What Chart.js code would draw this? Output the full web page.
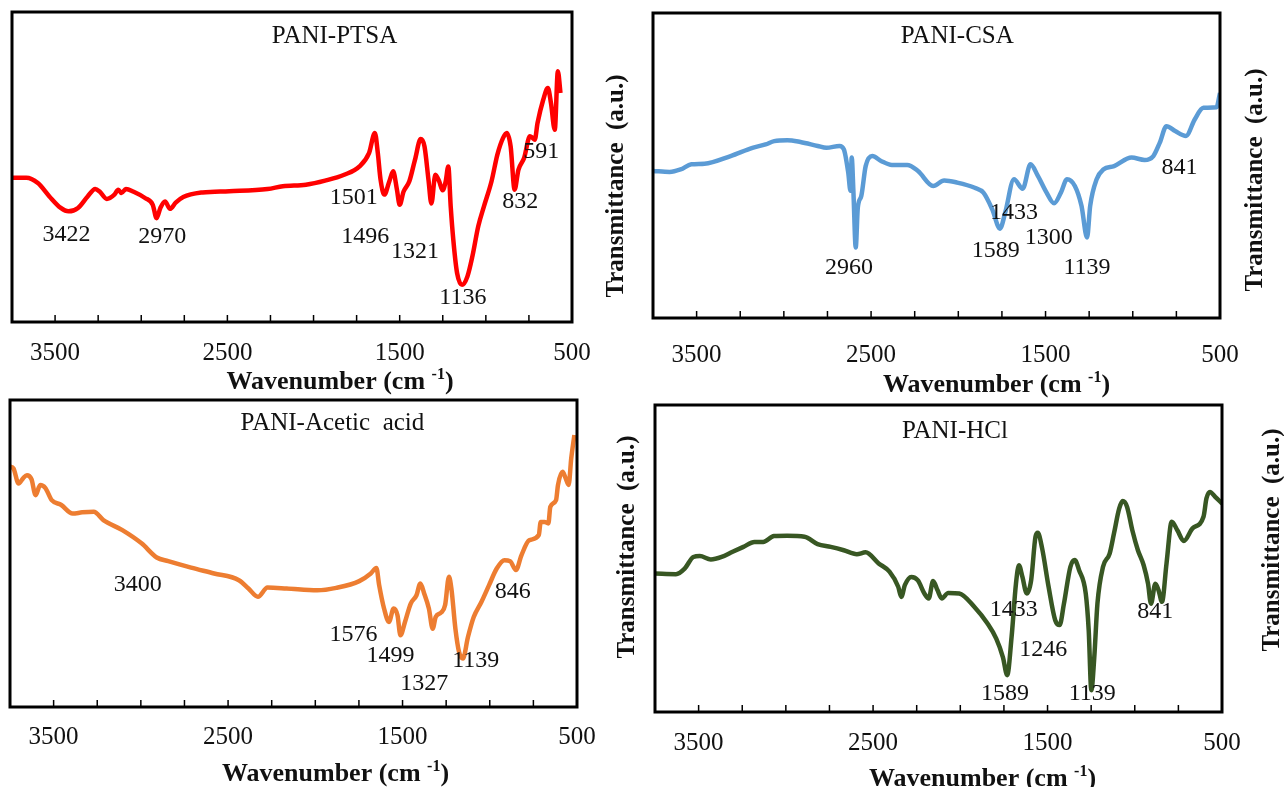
<!DOCTYPE html>
<html lang="en">
<head>
<meta charset="UTF-8">
<title>FTIR spectra of PANI samples</title>
<script src="https://cdn.jsdelivr.net/npm/chart.js"></script>
<style>
  body { margin: 0; background: #fff; }
  #page { position: relative; width: 1284px; height: 787px; overflow: hidden; background: #fff; }
  .panel { position: absolute; }
</style>
</head>
<body>
<div id="page"></div>
<script>
// x axis: labelled ticks and small inward ticks (cm-1)
const tickLabels = [3500, 2500, 1500, 500];
const minorTicks = [3500, 3250, 3000, 2750, 2500, 2250, 2000, 1750, 1500, 1250, 1000, 750];

// PANI-PTSA
const ptsaWn = [3750,3667,3600,3533,3467,3422,3367,3311,3267,3240,3200,3156,3133,3115,3089,3044,2978,2933,2911,2889,2862,2833,2800,2756,2644,2489,2267,2178,2044,1933,1822,1733,1678,1644,1627,1611,1589,1560,1538,1516,1500,1478,1444,1411,1378,1356,1333,1316,1293,1271,1251,1233,1218,1204,1189,1167,1138,1107,1078,1044,1011,967,933,900,878,856,833,811,778,744,729,716,700,667,640,622,600,582,567];
const ptsaT = [46.5,46.5,44.8,40.5,36.8,35.7,36.8,40.5,42.9,42,39.7,41.1,42.7,41.6,42.9,42,40,37.8,33.5,36.8,38.9,36.5,38.5,40.3,41.8,42.2,42.9,43.8,44.3,45.6,47.5,50.2,54.5,61,54.5,45.9,41.1,45.4,48.6,42.7,37.8,42,45.4,52.4,59,56.6,45.9,38.2,47.5,45.4,42.5,45.4,50.2,37.3,26.6,15.8,12,14.7,21.2,30.9,37.3,45.4,54,59.4,61,56.6,42.7,49.1,52.9,59.9,59.4,58.8,64.2,71.7,75.5,70.6,62,80.9,73.9];
const ptsaPeakText = ['3422','2970','1501','1496','1321','1136','832','591'];
const ptsaPeakWn = [3433,2878,1767,1700,1411,1133,800,678];
const ptsaPeakT = [28.2,27.6,40,27.6,22.8,7.7,38.9,55];

// PANI-CSA
const csaWn = [3750,3655,3592,3530,3455,3305,3180,3105,3055,2980,2905,2806,2756,2681,2656,2631,2618,2611,2601,2588,2576,2556,2531,2493,2443,2381,2293,2231,2144,2081,2006,1906,1856,1806,1761,1731,1681,1631,1586,1544,1494,1451,1412,1377,1332,1294,1262,1244,1207,1169,1107,1007,932,882,845,807,757,695,645,595,520,500];
const csaT = [48.2,47.9,48.7,50.4,50.6,53.1,55.8,56.9,58,58.3,57.7,56.4,55.8,56.4,55.3,47.7,41.7,52.6,41.1,23.1,36.2,40,49.8,53.1,51.5,50.2,50.2,48.2,43.3,45.1,44.4,42.7,41.1,35.7,29.3,34.6,45.5,42.4,50.4,46.6,41.1,37.6,41.1,45.5,43.3,36.8,26.4,36.8,45.5,48.7,49.8,52.6,51.8,53.1,57.5,62.9,61.3,59.7,65.1,68.9,69.1,73.8];
const csaPeakText = ['2960','1433','1589','1300','1139','841'];
const csaPeakWn = [2626,1681,1786,1482,1262,732];
const csaPeakT = [16.6,34.6,22,26.4,16.6,49.3];

// PANI-Acetic acid
const aceWn = [3750,3730,3701,3675,3653,3627,3603,3577,3548,3511,3456,3391,3336,3270,3215,3106,2996,2909,2843,2712,2580,2438,2383,2329,2274,2164,1989,1880,1748,1682,1650,1634,1606,1578,1551,1529,1512,1486,1453,1420,1398,1376,1349,1327,1310,1278,1256,1234,1220,1197,1176,1154,1125,1092,1048,1004,960,916,883,850,818,774,719,708,686,664,653,620,609,583,565,548,533,515];
const aceT = [78.3,77.7,72.8,74.5,75.5,74.2,69,72.3,71.4,67.4,65.8,63,63.4,63.6,60.9,57.6,53.3,48.7,47.5,45.4,43.5,41.3,38.6,35.9,38.9,38.6,38,38.8,41,43.5,45.3,39.7,32.1,27.7,32.1,29.9,23.4,27.7,33.7,36.4,40.2,37,32.1,25.5,29.3,30.8,33.2,42.4,38.6,25.5,17.9,15.8,22.8,29.3,34.2,39.7,45.1,47.8,47.5,44.6,49.5,54.3,56,60.3,60.3,59.8,65.2,67.4,72.3,76.6,74.5,72.3,81,88.6];
const acePeakText = ['3400','1576','1499','1327','1139','846'];
const acePeakWn = [3018,1781,1569,1376,1080,868];
const acePeakT = [39.7,23.4,16.8,7.6,15.2,37.7];

// PANI-HCl
const hclWn = [3750,3630,3580,3530,3493,3430,3368,3305,3243,3180,3130,3068,2993,2893,2818,2743,2668,2593,2543,2468,2406,2356,2338,2318,2281,2243,2206,2181,2156,2131,2106,2069,2006,1919,1844,1794,1756,1731,1706,1681,1664,1644,1619,1594,1569,1556,1531,1494,1456,1431,1406,1369,1344,1319,1281,1264,1249,1232,1214,1182,1144,1119,1089,1069,1044,1014,982,949,924,907,882,864,844,818,788,756,719,669,606,589,569,539,500];
const hclT = [45.1,44.9,46.7,50.5,50.8,49.7,50.5,52.2,53.8,55.4,55.4,57.3,57.4,57.1,54.7,53.8,52.7,51.4,52,48.4,45.7,40.8,37.5,41.3,44,42.9,38.6,37,42.7,39.7,37,38.8,38.6,34.2,28.8,23.9,17.9,12,24.5,41.8,47.8,44,38.6,42.9,57.1,58.4,53.3,40.8,29.9,28.3,35.3,47.3,49.5,46.2,38.6,26.6,7.1,17.9,35.3,47.3,51.6,58.2,66.3,68.7,66.8,59.2,52.7,47.8,41.8,35.3,41.8,39.7,35.9,48.4,62,59.2,55.7,59.8,63.6,69.6,71.7,70.1,67.9];
const hclPeakText = ['1433','1246','1589','1139','841'];
const hclPeakWn = [1694,1524,1744,1244,882];
const hclPeakT = [33.2,20.3,5.8,5.8,32.6];

// panel layout: plot box [left, top, right, bottom] in page pixels
const panels = [
  { name: 'PANI-PTSA', nameAt: [1878, 92.2], wn: ptsaWn, t: ptsaT, color: '#ff0000',
    peakText: ptsaPeakText, peakWn: ptsaPeakWn, peakT: ptsaPeakT,
    box: [12, 12, 572, 322], padL: 12, padR: 45, padT: 12, tickPad: 16,
    titleDx: 48, titleDy: 58, yTitles: [] },
  { name: 'PANI-CSA', nameAt: [2006, 92.4], wn: csaWn, t: csaT, color: '#5b9bd5',
    peakText: csaPeakText, peakWn: csaPeakWn, peakT: csaPeakT,
    box: [653, 13, 1220, 318], padL: 50, padR: 64, padT: 13, tickPad: 22,
    titleDx: 60, titleDy: 65, yTitles: [[617, 186], [1256, 180]] },
  { name: 'PANI-Acetic  acid', nameAt: [1902, 92.4], wn: aceWn, t: aceT, color: '#ed7d31',
    peakText: acePeakText, peakWn: acePeakWn, peakT: acePeakT,
    box: [10, 400, 577, 707], padL: 10, padR: 45, padT: 12, tickPad: 15,
    titleDx: 42, titleDy: 65, yTitles: [] },
  { name: 'PANI-HCl', nameAt: [2031, 91.3], wn: hclWn, t: hclT, color: '#385723',
    peakText: hclPeakText, peakWn: hclPeakWn, peakT: hclPeakT,
    box: [655, 405, 1222, 712], padL: 50, padR: 62, padT: 12, tickPad: 16,
    titleDx: 44, titleDy: 65, yTitles: [[628, 547], [1273, 540]] }
];

const SERIF = '"Liberation Serif", "Times New Roman", serif';
const AXIS_H = 80;

function makeDecor(p, offX, offY) {
  return {
    id: 'decor',
    afterDraw(chart) {
      const { ctx, chartArea: a, scales: { x, y } } = chart;
      ctx.save();
      // inward ticks along the bottom axis
      ctx.strokeStyle = '#000';
      ctx.lineWidth = 1.5;
      minorTicks.forEach(v => {
        const px = x.getPixelForValue(v);
        ctx.beginPath();
        ctx.moveTo(px, a.bottom);
        ctx.lineTo(px, a.bottom - 7);
        ctx.stroke();
      });
      // frame
      ctx.lineWidth = 3;
      ctx.strokeRect(a.left, a.top, a.right - a.left, a.bottom - a.top);

      // sample name and peak labels
      ctx.fillStyle = '#111';
      ctx.textAlign = 'center';
      ctx.textBaseline = 'middle';
      ctx.font = '25px ' + SERIF;
      ctx.fillText(p.name, x.getPixelForValue(p.nameAt[0]), y.getPixelForValue(p.nameAt[1]));
      ctx.font = '24px ' + SERIF;
      p.peakText.forEach((txt, i) => {
        ctx.fillText(txt, x.getPixelForValue(p.peakWn[i]), y.getPixelForValue(p.peakT[i]));
      });

      // x axis title with superscript
      const cx = (a.left + a.right) / 2 + p.titleDx;
      const base = a.bottom + p.titleDy + 9;
      const big = 'bold 26px ' + SERIF, small = 'bold 16px ' + SERIF;
      const t1 = 'Wavenumber (cm ', t2 = '-1', t3 = ')';
      ctx.font = big;
      const w1 = ctx.measureText(t1).width, w3 = ctx.measureText(t3).width;
      ctx.font = small;
      const w2 = ctx.measureText(t2).width;
      let sx = cx - (w1 + w2 + w3) / 2;
      ctx.textAlign = 'left';
      ctx.textBaseline = 'alphabetic';
      ctx.font = big; ctx.fillText(t1, sx, base); sx += w1;
      ctx.font = small; ctx.fillText(t2, sx, base - 10); sx += w2;
      ctx.font = big; ctx.fillText(t3, sx, base);

      // y axis titles
      ctx.font = 'bold 25px ' + SERIF;
      ctx.textAlign = 'center';
      ctx.textBaseline = 'middle';
      p.yTitles.forEach(([tx, ty]) => {
        ctx.save();
        ctx.translate(tx - offX, ty - offY);
        ctx.rotate(-Math.PI / 2);
        ctx.fillText('Transmittance  (a.u.)', 0, 0);
        ctx.restore();
      });
      ctx.restore();
    }
  };
}

const page = document.getElementById('page');

panels.forEach(p => {
  const [bl, bt, br, bb] = p.box;
  const left = bl - p.padL, top = bt - p.padT;
  const w = br + p.padR - left, h = bb - top + AXIS_H;
  const div = document.createElement('div');
  div.className = 'panel';
  div.style.left = left + 'px';
  div.style.top = top + 'px';
  const cv = document.createElement('canvas');
  cv.width = w; cv.height = h;
  cv.style.width = w + 'px'; cv.style.height = h + 'px';
  div.appendChild(cv);
  page.appendChild(div);

  new Chart(cv, {
    type: 'line',
    data: {
      datasets: [{
        data: p.wn.map((x, i) => ({ x: x, y: p.t[i] })),
        borderColor: p.color,
        borderWidth: 4.5,
        pointRadius: 0,
        cubicInterpolationMode: 'monotone',
        fill: false
      }]
    },
    options: {
      responsive: false,
      animation: false,
      events: [],
      layout: { padding: { left: p.padL, right: p.padR, top: p.padT, bottom: 0 } },
      plugins: { legend: { display: false }, tooltip: { enabled: false } },
      scales: {
        x: {
          type: 'linear',
          reverse: true,
          min: 500,
          max: 3750,
          grid: { display: false, drawTicks: false },
          border: { display: false },
          afterBuildTicks: s => { s.ticks = tickLabels.map(v => ({ value: v })); },
          afterFit: s => { s.height = AXIS_H; },
          ticks: {
            callback: v => String(v),
            font: { family: SERIF, size: 25 },
            color: '#111',
            padding: p.tickPad,
            maxRotation: 0,
            autoSkip: false
          }
        },
        y: { display: false, min: 0, max: 100 }
      }
    },
    plugins: [makeDecor(p, left, top)]
  });
});
</script>
</body>
</html>
